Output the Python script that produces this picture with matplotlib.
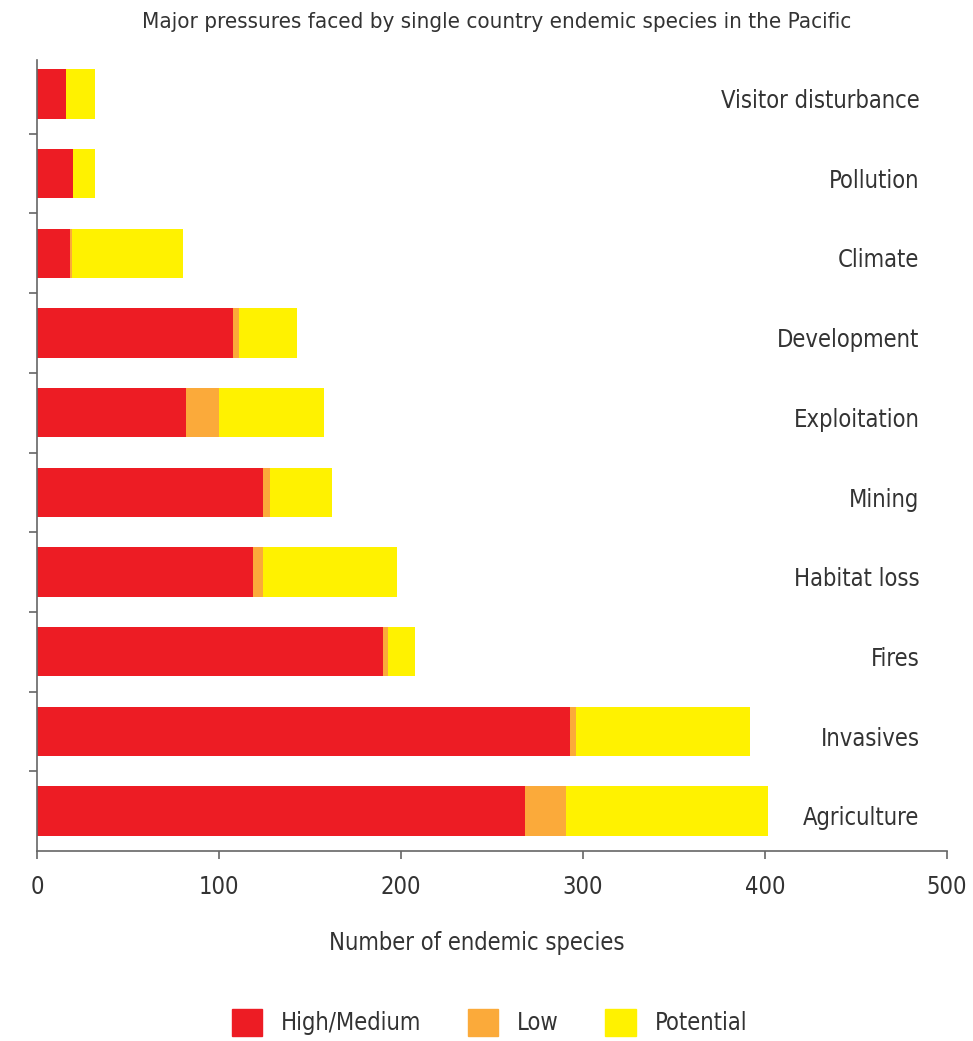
import matplotlib.pyplot as plt
from matplotlib.patches import Patch

# Categories, bottom to top
categories = ['Agriculture', 'Invasives', 'Fires', 'Habitat loss', 'Mining',
              'Exploitation', 'Development', 'Climate', 'Pollution',
              'Visitor disturbance']
high_medium = [268, 293, 190, 119, 124, 82, 108, 18, 20, 16]
low = [23, 3, 3, 5, 4, 18, 3, 1, 0, 0]
potential = [111, 96, 15, 74, 34, 58, 32, 61, 12, 16]
x_ticks = [0, 100, 200, 300, 400, 500]

RED = '#ED1C24'
ORANGE = '#FBAA3A'
YELLOW = '#FFF200'
GREY = '#666666'
TEXT = '#333333'

plt.rcParams['font.family'] = ['DejaVu Sans']
plt.rcParams['font.stretch'] = 'condensed'

fig = plt.figure(figsize=(9.73, 10.41), dpi=100)
ax = fig.add_axes([0.038, 0.1825, 0.935, 0.7595])

y = list(range(len(categories)))
left_low = [h for h in high_medium]
left_pot = [h + l for h, l in zip(high_medium, low)]

ax.barh(y, high_medium, height=0.62, color=RED, label='High/Medium')
ax.barh(y, low, left=left_low, height=0.62, color=ORANGE, label='Low')
ax.barh(y, potential, left=left_pot, height=0.62, color=YELLOW, label='Potential')

# Category labels inside the plot, right aligned
for yi, name in zip(y, categories):
    ax.text(0.97, yi - 0.09, name, transform=ax.get_yaxis_transform(),
            ha='right', va='center', fontsize=17, color=TEXT)

ax.set_xlim(0, 500)
ax.set_ylim(-0.5, 9.42)
ax.set_xticks(x_ticks)
ax.set_xticklabels([str(t) for t in x_ticks], fontsize=17, color=TEXT)
ax.set_yticks([i + 0.5 for i in range(9)])
ax.set_yticklabels([])
ax.tick_params(axis='y', length=6, width=1.2, color=GREY, direction='out')
ax.tick_params(axis='x', length=6, width=1.2, color=GREY, direction='out', pad=11)

for side in ['top', 'right']:
    ax.spines[side].set_visible(False)
for side in ['left', 'bottom']:
    ax.spines[side].set_color(GREY)
    ax.spines[side].set_linewidth(1.2)

ax.set_xlabel('Number of endemic species', fontsize=17, color=TEXT)
ax.xaxis.set_label_coords(0.483, -0.101)

fig.text(0.51, 0.979, 'Major pressures faced by single country endemic species in the Pacific',
         ha='center', va='center', fontsize=16, fontstretch='condensed', color=TEXT)

handles = [Patch(color=RED, label='High/Medium'),
           Patch(color=ORANGE, label='Low'),
           Patch(color=YELLOW, label='Potential')]
fig.legend(handles=handles, loc='center', bbox_to_anchor=(0.503, 0.018), ncol=3,
           frameon=False, fontsize=17, handlelength=1.3, handleheight=1.4,
           columnspacing=1.95, handletextpad=0.8, labelcolor=TEXT)

fig.savefig('out.png', dpi=100)
